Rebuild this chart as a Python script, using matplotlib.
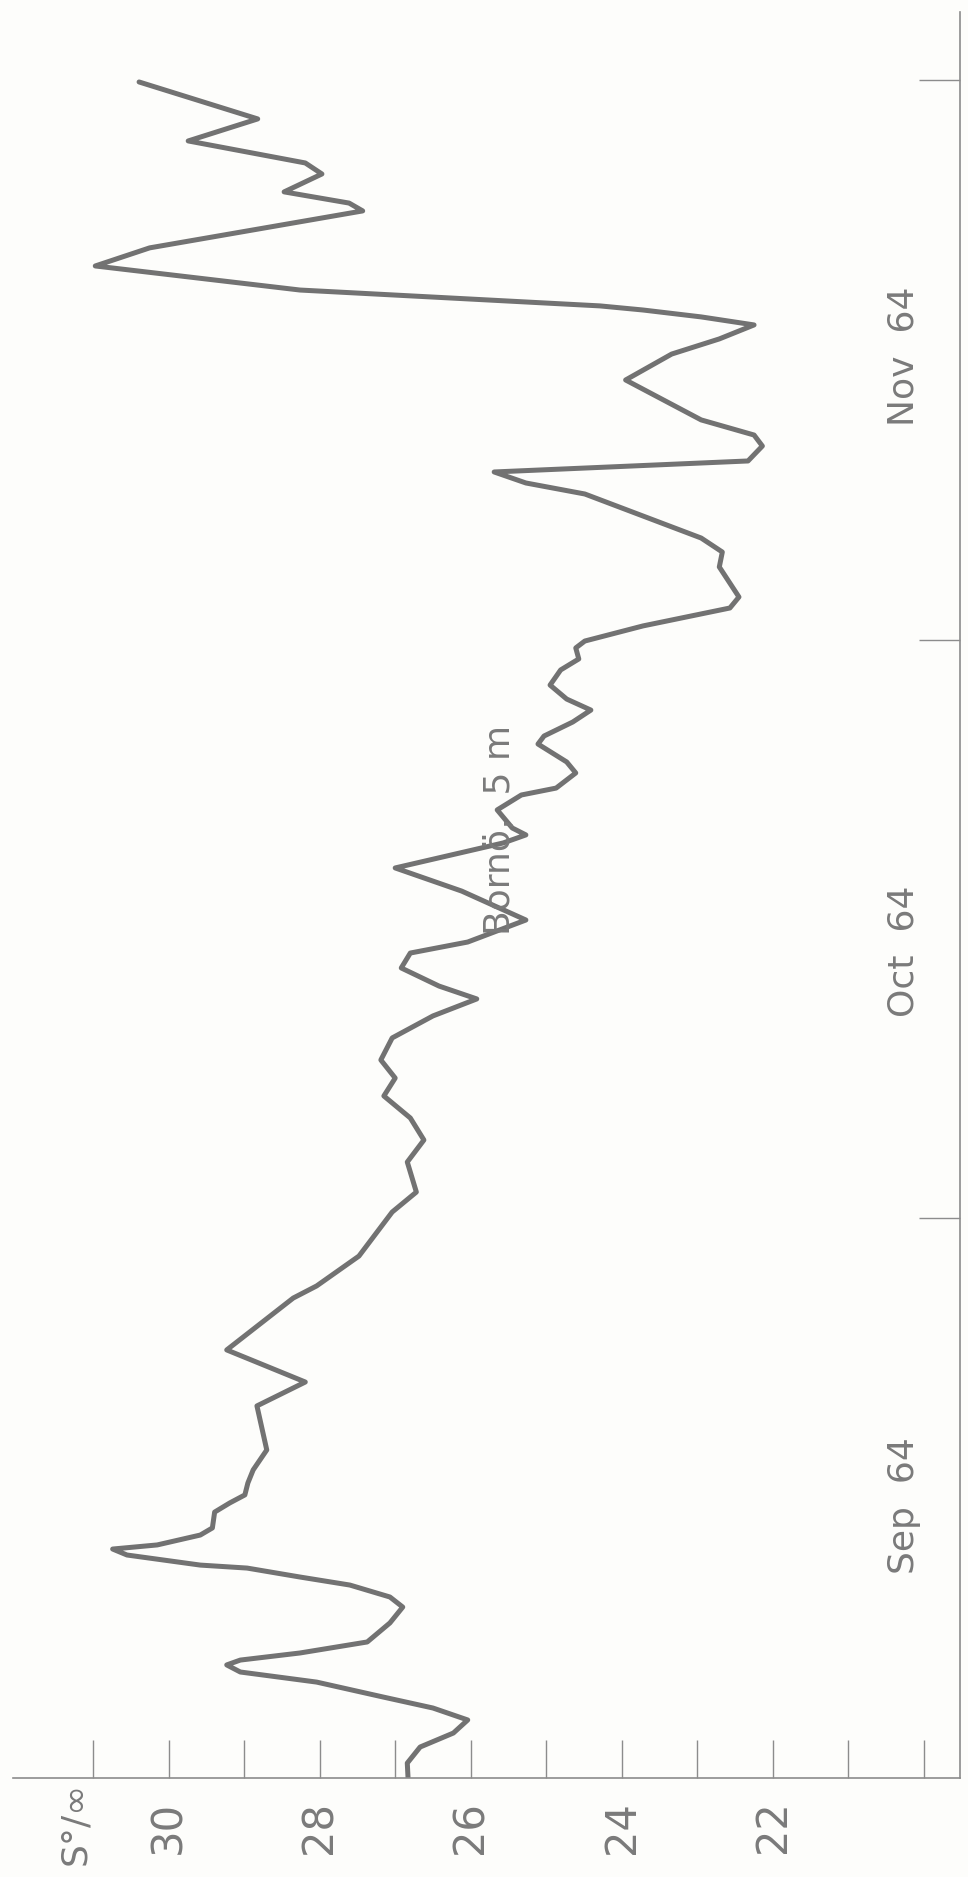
import matplotlib
matplotlib.use("Agg")
import matplotlib.pyplot as plt
from matplotlib import font_manager

# ---------------- data ----------------
# days since 1 Sep 1964
days = [0.00, 0.80, 1.66, 2.41, 3.11, 3.75, 4.34, 5.14, 5.68, 6.06, 6.32, 6.70,
        7.29, 8.31, 9.16, 9.70, 10.34, 10.77, 11.25, 11.41, 11.95, 12.27, 12.49,
        13.02, 13.40, 14.25, 14.74, 15.17, 15.81, 16.51, 17.58, 19.94, 21.22,
        22.94, 25.72, 26.37, 27.97, 30.33, 31.40, 33.01, 34.19, 35.37, 36.55,
        37.51, 38.48, 39.66, 40.84, 41.75, 42.44, 43.41, 44.21, 44.80, 45.98,
        47.53, 48.77, 50.11, 50.54, 50.91, 51.88, 52.68, 53.05, 53.86, 54.45,
        55.41, 55.84, 56.59, 57.23, 57.82, 58.57, 59.38, 59.97, 60.56, 60.93,
        61.74, 62.70, 63.29, 64.90, 65.70, 66.45, 67.63, 68.81, 69.40, 69.99,
        70.58, 71.38, 71.97, 72.78, 74.92, 76.31, 77.12, 77.87, 78.30, 78.67,
        78.89, 79.74, 81.03, 82.00, 83.98, 84.40, 85.00, 85.96, 86.55, 87.73,
        88.91, 90.89]
salinity = [26.83, 26.84, 26.67, 26.23, 26.04, 26.50, 27.16, 28.04, 29.05, 29.23,
            29.05, 28.26, 27.37, 27.07, 26.90, 27.07, 27.60, 28.26, 28.96, 29.58,
            30.55, 30.74, 30.15, 29.58, 29.42, 29.39, 29.19, 28.99, 28.95, 28.88,
            28.70, 28.83, 28.19, 29.23, 28.35, 28.04, 27.48, 27.04, 26.72, 26.84,
            26.62, 26.80, 27.15, 27.00, 27.19, 27.04, 26.50, 25.92, 26.42, 26.92,
            26.80, 26.04, 25.27, 26.12, 27.00, 25.57, 25.27, 25.45, 25.65, 25.33,
            24.87, 24.61, 24.73, 25.11, 25.03, 24.65, 24.41, 24.73, 24.95, 24.81,
            24.57, 24.61, 24.49, 23.72, 22.57, 22.45, 22.71, 22.67, 22.95, 23.72,
            24.49, 25.27, 25.69, 22.33, 22.14, 22.25, 22.95, 23.95, 23.34, 22.71,
            22.25, 22.95, 23.72, 24.29, 28.26, 30.97, 30.25, 27.43, 27.61, 28.47,
            27.97, 28.19, 29.74, 28.82, 30.39]

sal_ticks = list(range(20, 32))
sal_label_values = [30, 28, 26, 24, 22]
sal_label_texts = ["30", "28", "26", "24", "22"]
unit_label = "S°/∞"
month_ticks = [30, 61, 91]
month_labels = ["Sep  64", "Oct  64", "Nov  64"]
month_label_days = [14.6, 44.3, 76.2]
title_text = "Bornö,  5 m"

# ---------------- style ----------------
names = {f.name for f in font_manager.fontManager.ttflist}
if "Liberation Sans Narrow" in names:
    FAM = "Liberation Sans Narrow"
    FS_NUM, FS_MON, FS_UNIT = 37, 31, 34
else:
    FAM = "DejaVu Sans"
    FS_NUM, FS_MON, FS_UNIT = 30, 26, 26

INK = "#727272"
AX = "#8c8c8c"
TXT = "#7a7a7a"
BG = "#fdfdfb"

W, H = 968, 1877
fig = plt.figure(figsize=(W / 100, H / 100), dpi=100, facecolor=BG)
ax = fig.add_axes([13 / W, 1 - 1778 / H, (960 - 13) / W, (1778 - 12) / H])
ax.set_facecolor(BG)

ax.plot(salinity, days, color=INK, lw=3.6, solid_joinstyle="round",
        solid_capstyle="round")

ax.set_xlim(32.059, 19.524)
ax.set_ylim(0, 94.64)

for s in ("left", "top"):
    ax.spines[s].set_visible(False)
for s in ("bottom", "right"):
    ax.spines[s].set_color(AX)
    ax.spines[s].set_linewidth(1.2)

ax.set_xticks(sal_ticks)
ax.set_xticklabels([])
ax.tick_params(axis="x", direction="in", length=38 * 0.72, width=1.0, color=AX)

ax.yaxis.set_ticks_position("right")
ax.set_yticks(month_ticks)
ax.set_yticklabels([])
ax.tick_params(axis="y", direction="in", length=41 * 0.72, width=1.0, color=AX)

for v, t in zip(sal_label_values, sal_label_texts):
    ax.text(v, -2.63, t, rotation=90, ha="center", va="center", fontsize=FS_NUM,
            color=TXT, family=FAM, clip_on=False)
ax.text(31.24, -2.41, unit_label, rotation=90, ha="center", va="center",
        fontsize=FS_UNIT, color=TXT, family=[FAM, "DejaVu Sans"], clip_on=False)

for d, t in zip(month_label_days, month_labels):
    ax.text(20.27, d, t, rotation=90, ha="center", va="center", fontsize=FS_MON,
            color=TXT, family=FAM)

ax.text(25.61, 50.8, title_text, rotation=90, ha="center", va="center",
        fontsize=FS_MON, color=TXT, family=FAM)

fig.savefig("out.png", dpi=100, facecolor=BG)
